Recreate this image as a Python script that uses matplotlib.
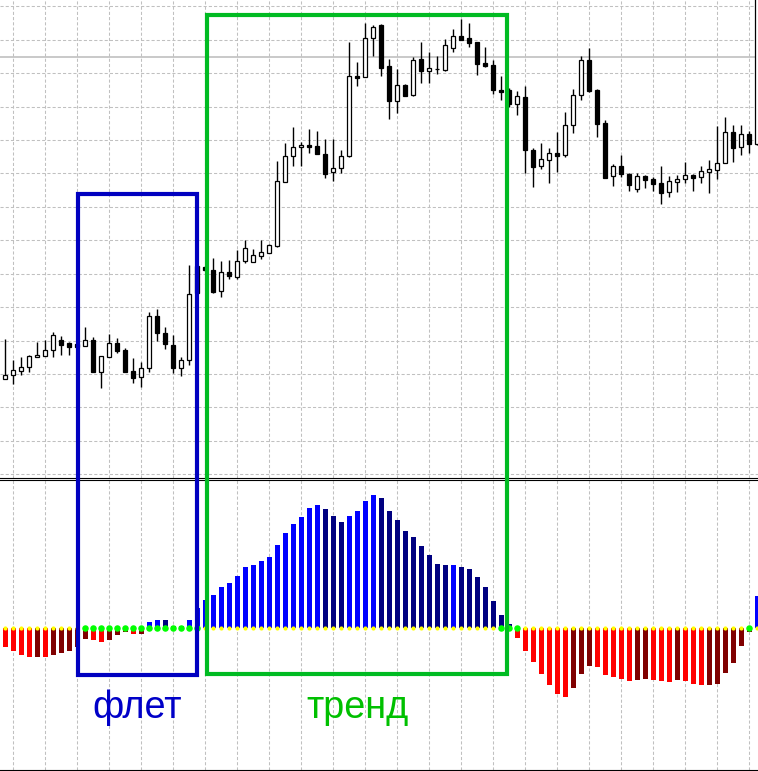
import numpy as np
import matplotlib
matplotlib.use('Agg')
import matplotlib.pyplot as plt
from matplotlib.patches import Rectangle

''' price chart with a trend / flat histogram below '''

# candles (price in points, higher = up)
opens = [101.3, 105, 109.3, 112.7, 122.7, 124.3, 129.7, 139.7, 137, 136,
         134.3, 139.7, 108.3, 123.3, 136.7, 130, 109, 102.7, 111.7, 164,
         146.7, 134.7, 112.3, 120, 214, 213.3, 210, 189, 207.7, 203.3,
         219.3, 218.3, 224.3, 227.3, 234, 298.3, 323.7, 332.7, 335, 334,
         326, 307.7, 311.7, 323.7, 403.7, 402.7, 441.7, 455, 414, 379.3,
         395, 385.3, 421, 409.3, 410.7, 410.3, 432.3, 443.7, 442, 438.3,
         417.3, 415, 390.3, 390, 376.3, 383, 330, 313.7, 320.3, 327,
         324.7, 354.7, 384.7, 419.7, 390, 357, 303.7, 313.7, 305.7, 291.3,
         304, 301, 296.7, 287.7, 298.3, 301.3, 305, 302.7, 308.3, 310.3,
         316.7, 347.7, 332.7, 345.7, 336.3]
highs = [141, 120, 123, 125, 138.3, 140, 148.3, 144, 138, 137,
         152.7, 142.7, 123.7, 146, 141.7, 131.7, 121.7, 118.3, 167.7, 170.7,
         152.7, 145, 122.7, 215, 217, 214, 222.3, 219, 220, 230,
         240, 230.7, 240, 235.7, 319, 336.7, 352.7, 338.3, 351, 349,
         341, 341, 329.7, 437.7, 417.7, 456.7, 455, 456, 420.7, 411,
         396, 422.7, 437.7, 427.7, 424, 440.7, 450.7, 461, 456.7, 438.3,
         433, 420, 404, 392, 389, 394, 331.7, 336.7, 331.7, 348,
         367.7, 390.7, 424, 432.3, 391, 360, 316, 325, 307.3, 306.7,
         305, 302.7, 314, 304, 305.3, 318, 306.3, 314, 320, 354,
         362.7, 354.7, 354.7, 348.7, 510]
lows = [101, 96, 105, 108.3, 122.7, 124, 123.3, 125, 125, 133,
        134.3, 108.3, 91.7, 122.7, 127.3, 108.3, 96.7, 93.3, 108.3, 139.3,
        131, 106.7, 104, 115, 185, 209, 186.7, 183.3, 200.7, 200.7,
        217.3, 218.3, 221.3, 226.7, 233.3, 298.3, 314.3, 314.3, 327.3, 325.7,
        302.3, 299, 307.3, 322.7, 394.3, 402.7, 424.3, 404.3, 361.3, 366.7,
        384, 384.3, 397.3, 396.7, 405.7, 409.3, 427.7, 440, 432.7, 404.7,
        413.3, 386, 380, 373, 365, 306.7, 292.7, 310.7, 296.7, 308.3,
        322.7, 346.7, 380, 387.7, 343.3, 302.3, 294.3, 303.3, 289.3, 288.3,
        292.3, 289.3, 276, 283.3, 288.3, 297.3, 289.3, 297.3, 287.3, 301.3,
        316.7, 318, 325, 327.3, 335]
closes = [104.7, 110, 112.7, 123.7, 124.7, 129.7, 145, 135.3, 133.3, 133.3,
          139.7, 108.3, 123.7, 136.7, 129.3, 108.3, 102.3, 111.7, 164, 146.7,
          135.7, 112.3, 119.7, 186, 187, 210, 188.3, 208.3, 204.3, 219,
          231.7, 224.7, 227.7, 234.7, 299, 324, 333, 334.7, 333.3, 325.7,
          305.7, 311.7, 323.7, 403.7, 402.3, 441.7, 453.3, 412.3, 379.3, 395,
          384.3, 420, 409.3, 411.7, 410.7, 434.7, 443.7, 440, 437.3, 416.3,
          414.3, 390.3, 388.3, 376.3, 384, 330.3, 313.3, 320.7, 327, 324,
          354.7, 384.7, 419.7, 389.3, 356.3, 302.3, 313.7, 306.3, 295.3, 303.7,
          300.3, 296.3, 287.3, 298.7, 300.7, 304.7, 302.3, 308.7, 310.7, 316.7,
          347.7, 332.3, 345.7, 336.3, 500]
level = 422.7  # horizontal level line

# histogram values and colour codes (B up/rising, N up/falling, R down/rising, M down/falling)
osc = [-18.3, -22.3, -26.3, -28.3, -28.3, -28.7, -26.3, -24.3, -22.3, -18.3,
       -10.3, -11.7, -13.7, -11.7, -6.7, -3.3, -5.3, -5.3, 6, 8.3,
       8.3, 2.5, 2, 8.3, 20, 28.3, 33.3, 41.3, 45.3, 52.3,
       61.3, 63.3, 67.3, 71.3, 83.3, 95.3, 104.3, 111.3, 120.3, 123.3,
       119.3, 112.3, 106.3, 112.3, 117.3, 127.3, 133.3, 130.3, 117.3, 108.3,
       97.3, 91.3, 82.3, 73.3, 64.3, 63.3, 63.3, 61.3, 59.3, 51.3,
       41.3, 27.3, 13.3, 4, -9.3, -22.3, -33.3, -45.3, -56.3, -65.3,
       -68.3, -59.3, -45.3, -37.3, -38.3, -46.3, -48.3, -50.3, -52.3, -51.3,
       -50.3, -51.3, -52.3, -53.3, -51.3, -52.3, -55.3, -56.3, -56.3, -55.3,
       -44.3, -34.3, -17.3, -3.3, 32]
osc_codes = ("RRRRMRMMMM" "MRRMMMRMBB" "NNNBBBBBBB" "BBBBBBBBBB" "NNNBBBBNNN"
             "NNNNNNBNNN" "NNNNRRRRRR" "RMMMRRRRRM" "MRRRMRRRMM" "MMMMB")
flat_bars = list(range(10, 25)) + [62, 63, 64, 93]  # green dots

# marked zones (in bar numbers)
flat_zone = (9.1, 24.0)
trend_zone = (25.2, 62.7)

pal = {'B': '#0000ff', 'N': '#000080', 'R': '#ff0000', 'M': '#800000'}
grid_c = '#c0c0c0'

n = len(opens)
x = np.arange(n)
W, H = 758, 771
xlim = (-0.66, 94.09)

fig = plt.figure(figsize=(W / 100, H / 100), dpi=100)
ax = fig.add_axes([0, 1 - 478 / H, 1, 478 / H])
ax2 = fig.add_axes([0, 1 / H, 1, 290 / H])

# --- candles ---
ax.set_xlim(*xlim)
ax.set_ylim(2, 480)
ax.set_xticks(np.arange(1, n, 4))
ax.set_yticks(np.linspace(5.7, 473.7, 15))
ax.grid(True, color=grid_c, linestyle=(0, (3, 2)), linewidth=0.75)
ax.set_axisbelow(True)
ax.axhline(level, color=grid_c, linewidth=1.2, zorder=1)
ax.vlines(x, lows, highs, color='black', linewidth=1.0, zorder=2)
o = np.array(opens)
c = np.array(closes)
body_col = ['white' if cc >= oo else 'black' for oo, cc in zip(o, c)]
ax.bar(x, np.abs(c - o), bottom=np.minimum(o, c), width=0.48,
       color=body_col, edgecolor='black', linewidth=0.9, zorder=3)

# --- histogram ---
ax2.set_xlim(*xlim)
ax2.set_ylim(-141.7, 148.3)
ax2.set_xticks(np.arange(1, n, 4))
ax2.set_yticks([])
ax2.grid(True, axis='x', color=grid_c, linestyle=(0, (3, 2)), linewidth=0.75)
ax2.set_axisbelow(True)
ax2.bar(x, osc, width=0.58, color=[pal[k] for k in osc_codes], zorder=2)
yel = [i for i in x if i not in flat_bars]
ax2.scatter(yel, np.zeros(len(yel)), s=9, color='#ffff00', zorder=3, linewidths=0)
ax2.scatter(flat_bars, np.zeros(len(flat_bars)), s=22, color='#00ff00', zorder=4, linewidths=0)

for a in (ax, ax2):
    a.tick_params(length=0, labelbottom=False, labelleft=False)
    for s in ('left', 'right', 'top'):
        a.spines[s].set_visible(False)
    a.spines['bottom'].set_linewidth(0.8)
ax2.spines['top'].set_visible(True)
ax2.spines['top'].set_linewidth(0.8)

# --- zones and labels over both panels ---
ov = fig.add_axes([0, 0, 1, 1], facecolor='none')
ov.set_xlim(*xlim)
ov.set_ylim(H, 0)
ov.axis('off')
ov.add_patch(Rectangle((flat_zone[0], 194), flat_zone[1] - flat_zone[0], 480.5,
                       fill=False, edgecolor='#0000c0', linewidth=3.0, zorder=5))
ov.add_patch(Rectangle((trend_zone[0], 15), trend_zone[1] - trend_zone[0], 659,
                       fill=False, edgecolor='#00bb22', linewidth=3.0, zorder=5))
ov.text(sum(flat_zone) / 2 - 0.1, 718, 'флет', color='#0000c8', fontsize=27.3,
        family='Liberation Sans', ha='center', va='baseline')
ov.text(sum(trend_zone) / 2 + 0.1, 718, 'тренд', color='#00c000', fontsize=27.3,
        family='Liberation Sans', ha='center', va='baseline')

fig.savefig('out.png', dpi=100)
